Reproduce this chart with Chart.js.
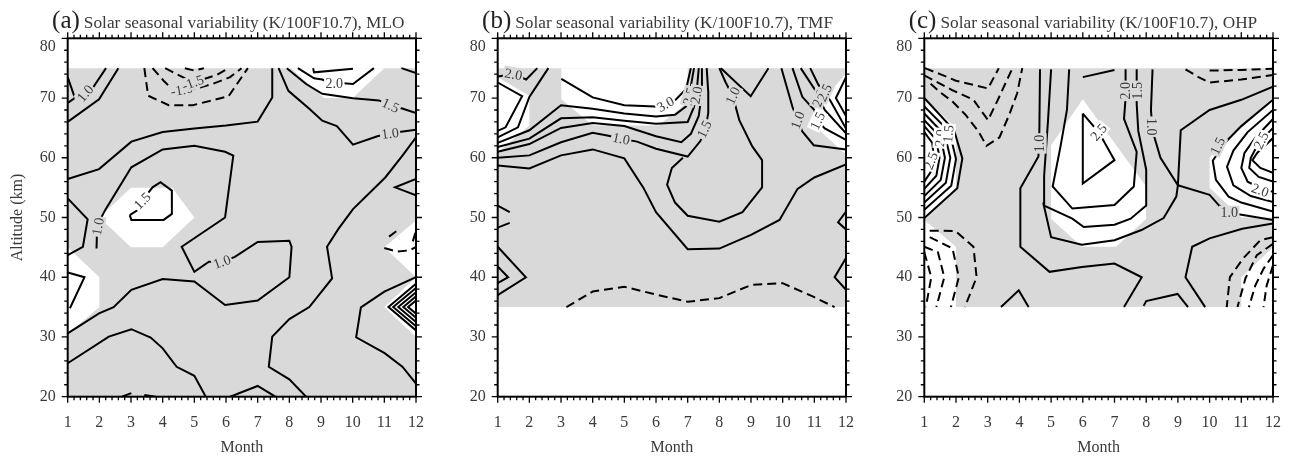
<!DOCTYPE html>
<html>
<head>
<meta charset="utf-8">
<script src="https://cdn.jsdelivr.net/npm/chart.js@4.4.0/dist/chart.umd.min.js"></script>
<style>
  html, body { margin: 0; padding: 0; background: #fff; }
  #wrap { position: relative; width: 1298px; height: 460px; overflow: hidden; }
  canvas { position: absolute; top: 0; }
</style>
</head>
<body>
<div id="wrap">
  <canvas id="ca" width="440" height="460" style="left:0px"></canvas>
  <canvas id="cb" width="440" height="460" style="left:430px"></canvas>
  <canvas id="cc" width="440" height="460" style="left:857px"></canvas>
</div>
<script>
// === AXES ===
const months = [1, 2, 3, 4, 5, 6, 7, 8, 9, 10, 11, 12];
const altTicks = [20, 30, 40, 50, 60, 70, 80];
const panelTags = ['(a)', '(b)', '(c)'];
const panelTitles = [
  'Solar seasonal variability (K/100F10.7), MLO',
  'Solar seasonal variability (K/100F10.7), TMF',
  'Solar seasonal variability (K/100F10.7), OHP'
];

// === (a) MLO : [month, altitude] ===
const shadeA = [[1, 20], [12, 20], [12, 75], [1, 75]];
const holesA = [
  [[8.05, 75], [11, 75], [10, 70], [9.1, 70]],
  [[2, 50], [3, 55], [4.3, 55], [5, 50], [4, 45], [3, 45]],
  [[1, 45], [2, 40], [2, 35], [1, 30.5]],
  [[11, 45], [12, 49.5], [12, 40]],
  [[11, 35], [12, 40], [12, 30]]
];
const solidA = [
  [[1, 73.5], [1.22, 70.1], [1.55, 70.9], [1.78, 71.6], [2.21, 75]],
  [[1, 69.2], [1.2, 69.9]],
  [[1, 66.0], [1.99, 69.8], [2.6, 75]],
  [[1, 56.45], [1.99, 58.1], [3.01, 62.7], [4, 64.3], [5, 64.9], [6, 65.4], [7, 66.05], [7.46, 70.1], [7.46, 75]],
  [[1, 53.2], [1.63, 49.7], [1.48, 45.1], [1, 43.7]],
  [[1.91, 44.8], [1.93, 48.7], [2.2, 51.4], [3.01, 58.4], [4, 61.4], [5, 62], [5.97, 61], [6.23, 60.35], [5.97, 50],
   [4.6, 45.1], [5, 40.9], [5.46, 42.6], [5.87, 42.6], [6.28, 43.4], [7, 45.9], [8, 46.1], [8.07, 45.1], [8, 40],
   [7, 36.1], [5.97, 35.35], [5, 39.3], [4, 39.7], [3.01, 37.9], [2.45, 35], [1.99, 33.95], [1, 30.6]],
  [[2.96, 50.4], [3.22, 51.3], [3.45, 53.5], [3.68, 55.05], [3.93, 55.9], [4.29, 54.5], [4.29, 50.6], [4.03, 49.6], [3.01, 49.6], [2.96, 50.4]],
  [[7.66, 75], [7.97, 71.2], [8.63, 68.2], [9.04, 66.2], [9.5, 65.3], [10.01, 62.2], [10.78, 63.6], [11.18, 64.1], [12, 64.7]],
  [[7.92, 75], [8.53, 72.35], [9.04, 70.7], [10.01, 69.95], [10.83, 69.6], [11.18, 68.8], [11.59, 68.2], [12, 67.5]],
  [[8.27, 75], [8.78, 73.3], [9.04, 73.1], [9.29, 72.5], [9.6, 72.5], [10.01, 72.35], [10.67, 75]],
  [[8.75, 75], [8.78, 74.3], [10.01, 74.9]],
  [[11.54, 75], [12, 74.2]],
  [[12, 63.4], [11.59, 60.5], [11.03, 56.7], [10.01, 51.4], [9.55, 48.1], [9.19, 45.1], [9.35, 39.8], [8.63, 35],
   [8, 33], [7.46, 30.05], [7.35, 25], [8, 22.9], [8.53, 20]],
  [[12, 56.45], [11.34, 55.05], [12, 53.7]],
  [[1, 25.6], [2.3, 30.05], [3.01, 31.3], [3.62, 29.9], [4, 28.1], [4.44, 25], [5, 23.5], [5.36, 20]],
  [[2.71, 20], [3.01, 20.6]],
  [[3.42, 20.3], [3.78, 20]],
  [[6.13, 20], [7, 21.8], [7.56, 20]],
  [[12, 40], [11, 37.6], [10.26, 34.96], [10.11, 29.94], [11.01, 27.3], [11.57, 25.03], [12, 22.2]],
  [[12, 38.9], [11.13, 35], [12, 31.1]],
  [[12, 38.2], [11.28, 35], [12, 31.8]],
  [[12, 37.5], [11.44, 35], [12, 32.5]],
  [[12, 36.8], [11.6, 35], [12, 33.2]],
  [[12, 36.1], [11.75, 35], [12, 33.9]],
  [[1, 40.8], [1.53, 40], [1.07, 34.8]]
];
const dashedA = [
  [[3.42, 75], [3.54, 70.4], [4.19, 68.8], [4.95, 68.8], [6.08, 70.3], [6.69, 75]],
  [[3.68, 75], [4.03, 72.9], [4.24, 71.8], [4.6, 71.5], [5.06, 71.6], [5.57, 72.35], [6.13, 73.5], [6.49, 75]],
  [[4.08, 75], [4.44, 74], [4.85, 72.9], [5.26, 73.1], [5.72, 73.9], [6.08, 75]],
  [[4.7, 75], [5, 74.6], [5.3, 75]],
  [[11, 44.9], [11.4, 44.3], [11.8, 44.5], [12, 45.1]],
  [[11.15, 46.8], [11.45, 48]],
  [[11.9, 46], [12, 47.8]]
];
const labelsA = [
  ['1.0', 1.55, 70.8, -50], ['-1.0', 4.6, 71.4, -10], ['-1.5', 4.95, 72.6, -20],
  ['2.0', 9.42, 72.5, 0], ['1.5', 11.2, 68.8, 25], ['1.0', 11.18, 64.1, -8],
  ['1.5', 3.35, 52.8, -45], ['1.0', 1.95, 48.5, -80], ['1.0', 5.87, 42.6, -20]
];

// === (b) TMF ===
const shadeB = [[1, 35], [12, 35], [12, 75], [1, 75]];
const holesB = [
  [[1, 73.5], [2, 70.4], [2, 65.4], [1, 60.9]],
  [[3.01, 75], [7, 75], [7, 69.3], [6.08, 65.4], [4, 65.4], [3.01, 69.8]],
  [[11, 68], [12, 74.1], [12, 60.5], [11, 65.4]]
];
const solidB = [
  [[1, 73.6], [1.5, 74], [1.9, 73.1], [2.25, 75]],
  [[1, 72.6], [1.77, 70.3], [1.25, 65.1], [1, 64.5]],
  [[2.6, 75], [2, 70.2], [1.64, 65.1], [1, 63.4]],
  [[3.01, 73.2], [4, 70.1], [5, 68.8], [5.97, 68.6], [6.25, 68.9], [6.6, 69.6], [6.95, 71.5], [7.1, 75]],
  [[1, 62.5], [2, 64.6], [3, 68.8], [4, 68.2], [5, 67.4], [6, 66.9], [6.6, 67.2], [6.95, 68.6], [7.1, 72], [7.2, 75]],
  [[1, 61.8], [2, 63.2], [3, 66.6], [4, 66.8], [5, 66.2], [6, 65.7], [7, 66], [7.2, 68.5], [7.3, 72], [7.35, 75]],
  [[1, 61], [2, 62.3], [3, 65], [4, 65.8], [5, 65.3], [6, 63.6], [6.8, 62.6], [7.1, 64], [7.35, 67], [7.45, 71], [7.45, 75]],
  [[1, 60], [2, 60.4], [3, 62.6], [4, 64.2], [4.5, 63.7], [5, 63.1], [5.4, 62.7], [6, 61.5], [7, 60.2], [7.4, 62.8],
   [7.55, 64.5], [7.65, 67.5], [7.65, 71], [7.6, 75]],
  [[8, 75], [8.2, 72.6], [8.42, 70.4], [8.63, 66.3], [9.04, 61.9], [9.35, 59.6], [9.35, 55.05], [8.73, 50.9], [8, 49.3],
   [7, 50.3], [6.6, 52.5], [6.35, 55.5], [6.5, 58.3], [6.85, 60]],
  [[1, 58.7], [2, 58.2], [3, 60.4], [4, 61.4], [5, 59.9], [5.6, 55], [6, 50.9], [7, 44.7], [8, 44.8], [9, 47.1],
   [9.9, 49.6], [10.47, 54.8], [11, 56.7], [12, 58.9]],
  [[8.05, 75], [8.99, 70.3], [9.55, 75]],
  [[9.96, 75], [10.31, 68.5], [10.47, 66.3], [10.62, 64.4], [10.98, 62.1], [12, 61.4]],
  [[10.31, 75], [10.62, 70.2], [11, 68], [11.1, 66.2], [11.33, 64.9], [12, 63]],
  [[10.57, 75], [11.03, 71.3], [11.15, 70], [11.33, 68], [12, 64.1]],
  [[10.87, 75], [11.13, 72.2], [11.3, 70.9], [11.49, 69.7], [12, 64.9]],
  [[12, 73.5], [11.68, 70], [12, 67]],
  [[1, 45.1], [1.89, 40], [1, 37]],
  [[1, 41.8], [1.33, 40], [1, 39]],
  [[1, 52], [1.38, 50.9]],
  [[1, 48.3], [1.38, 49.1]],
  [[12, 43.2], [11.64, 40], [12, 37.9]],
  [[12, 51], [11.75, 49.2], [12, 48]]
];
const dashedB = [
  [[3.17, 35], [4, 37.6], [5, 38.4], [6.08, 37], [7, 35.9], [8, 36.5], [9, 38.7], [10, 39], [10.98, 36.7], [11.64, 35]]
];
const labelsB = [
  ['2.0', 1.5, 74, 10], ['3.0', 6.3, 69, -30], ['2.5', 7.05, 70.3, -75], ['2.0', 7.27, 70.5, -80],
  ['1.0', 4.9, 63.2, 12], ['1.5', 7.52, 64.8, -65], ['1.0', 8.42, 70.4, -65],
  ['1.0', 10.47, 66.3, -70], ['1.5', 11.1, 66.2, -65], ['2.0', 11.15, 70, -70], ['2.5', 11.32, 70.9, -65]
];

// === (c) OHP ===
const shadeC = [[1, 35], [12, 35], [12, 75], [1, 75]];
const holesC = [
  [[6, 69.8], [7.97, 55.4], [8, 49.8], [7.05, 45.1], [5.97, 45.1], [5, 49.8], [5, 62.1]],
  [[1, 70], [2, 65], [2, 55], [1, 50]],
  [[1, 49.6], [2, 45.1], [2, 35], [1, 35]],
  [[12, 70], [11, 65], [10, 60], [10, 55], [11, 50], [12, 50]],
  [[11, 40], [12, 45], [12, 35], [11, 35]]
];
const solidC = [
  [[1, 70], [1.94, 64.6], [2.2, 59.9], [2.04, 54.9], [1, 49.9]],
  [[1, 68.6], [1.8, 64.3], [2, 59.8], [1.85, 55.3], [1, 51.3]],
  [[1, 67.4], [1.65, 63.8], [1.82, 60], [1.68, 55.8], [1, 52.5]],
  [[1, 66.3], [1.52, 63.4], [1.65, 60], [1.52, 56.3], [1, 53.6]],
  [[1, 65.3], [1.38, 63], [1.48, 60], [1.38, 57], [1, 54.8]],
  [[1, 64.3], [1.25, 62.5], [1.3, 60], [1.2, 57.6], [1, 56]],
  [[4.65, 74.8], [4.63, 64.6], [4.6, 60.2], [4.03, 54.9], [4.03, 45.1], [4.95, 40.9], [5.97, 41.7], [7, 42.3], [7.86, 40], [7.3, 35]],
  [[4.75, 52.5], [5, 46.7], [5.97, 45.45], [7, 46.2], [7.85, 47.9], [8.55, 49.9], [8.95, 53.5], [9, 55.4], [8.45, 60],
   [8.2, 64.5], [8.15, 68], [8.2, 74.8]],
  [[5, 74.8], [4.9, 66], [4.78, 57], [4.78, 52], [5.67, 49.8], [6.03, 48.4], [7, 48.8], [7.51, 49.8], [8, 52], [8, 58],
   [7.75, 64.5], [7.7, 69], [7.7, 74.8]],
  [[5.57, 74.8], [5.5, 68], [5.3, 62], [5.05, 55.2], [5.67, 51.5], [7, 52.1], [7.61, 55.2], [7.7, 61], [7.3, 66.5],
   [7.35, 70], [7.35, 74.8]],
  [[6, 67.4], [6.5, 64.3], [7, 59.6], [6, 55.7], [6, 67.4]],
  [[6, 73.5], [7, 74.7]],
  [[12, 71.9], [11, 69.7], [10, 68], [9.09, 64.6], [9, 55.4]],
  [[9, 55.4], [10, 53.8], [10.3, 52], [10.62, 50.8], [11.2, 50.3], [12, 49.6]],
  [[12, 49], [11.03, 48.1], [10, 46.5], [9.45, 45.1], [9.24, 40], [9.86, 35]],
  [[7.92, 35.2], [8, 36], [8.99, 37.2], [9.32, 35]],
  [[3.42, 35], [3.98, 37.8], [4.29, 35]],
  [[12, 69.7], [11, 65.3], [10.5, 62.6], [10.1, 59.5], [10.2, 56.3], [10.6, 53.5], [11, 52.5], [12, 51]],
  [[12, 68], [11.2, 64.3], [10.75, 61.2], [10.55, 58.5], [10.75, 55.4], [11.3, 53.6], [12, 52.6]],
  [[12, 66.5], [11.45, 63.4], [11.1, 60.8], [11, 58.3], [11.2, 56], [11.6, 54.9], [12, 54.3]],
  [[12, 65], [11.55, 62.5], [11.3, 60], [11.25, 58.3], [11.55, 56.8], [12, 56]],
  [[12, 63.3], [11.5, 60.8], [11.35, 59.6], [11.6, 58.3], [12, 57.5]]
];
const dashedC = [
  [[1.02, 75], [1.5, 74], [2, 72.9], [3.01, 71.6], [3.35, 75]],
  [[1, 73.8], [1.89, 71.3], [2.55, 69.7], [3.01, 66.3], [3.32, 69.7], [3.78, 75]],
  [[1.2, 72.4], [1.48, 71.05], [1.89, 69.4], [2.3, 67.2], [2.71, 64.4], [2.96, 62], [3.37, 63.4], [3.68, 67.2], [3.93, 70.8], [4.09, 75]],
  [[1.17, 47.8], [1.53, 47.8], [1.99, 47.7], [2.55, 45.1], [2.65, 40], [2.28, 35]],
  [[1.17, 46.7], [1.48, 45.9], [1.89, 44.8], [2.09, 40], [1.84, 35]],
  [[1, 45.1], [1.43, 44.2], [1.63, 40], [1.38, 35]],
  [[1, 44.2], [1.22, 40], [1.05, 35]],
  [[12, 46.7], [11.6, 46.2], [11.05, 43.1], [10.64, 40], [10.54, 35]],
  [[12, 45.6], [11.49, 43.7], [11.13, 39.8], [10.88, 35]],
  [[12, 43.7], [11.7, 41.4], [11.44, 38.6], [11.24, 35]],
  [[12, 42], [11.8, 38.6], [11.7, 35]],
  [[9.24, 74.8], [9.65, 73.5], [10, 72.6], [11, 73.1], [12, 73.85]],
  [[10, 74.6], [11, 74.7], [12, 74.9]]
];
const labelsC = [
  ['2.5', 1.2, 59.5, -70], ['2.0', 1.5, 63.3, -85], ['1.5', 1.75, 64, -85],
  ['1.0', 4.64, 62.4, -90], ['2.0', 7.35, 71.2, -90], ['1.5', 7.71, 71.2, -90], ['1.0', 8.17, 65.2, 90],
  ['2.5', 6.5, 64.3, -50], ['1.0', 10.62, 50.8, 0],
  ['1.5', 10.25, 62, -65], ['2.5', 11.62, 62.9, -65], ['2.0', 11.6, 54.6, 20]
];

const GRAY = '#d9d9d9';
const FONT = 'Liberation Serif';
const TXT = '#3a3a3a';

function inside(pt, poly) {
  let c = false;
  for (let i = 0, j = poly.length - 1; i < poly.length; j = i++) {
    const [xi, yi] = poly[i], [xj, yj] = poly[j];
    if (((yi > pt[1]) !== (yj > pt[1])) && (pt[0] < (xj - xi) * (pt[1] - yi) / (yj - yi) + xi)) c = !c;
  }
  return c;
}

function polySet(pts, color, order) {
  const closed = pts.concat([pts[0]]);
  return {
    data: closed.map(([x, y]) => ({x, y})),
    fill: 'shape', backgroundColor: color,
    borderColor: 'rgba(0,0,0,0)', borderWidth: 0,
    pointRadius: 0, tension: 0, order: order
  };
}

function lineSet(pts, dash) {
  return {
    data: pts.map(([x, y]) => ({x, y})),
    fill: false, borderColor: '#000', borderWidth: 2, borderDash: dash,
    borderJoinStyle: 'miter', pointRadius: 0, tension: 0, order: 0
  };
}

// contour labels, cut into the lines
const labelPlugin = {
  id: 'contourLabels',
  afterDatasetsDraw(chart, args, opts) {
    const {ctx} = chart;
    const xs = chart.scales.x, ys = chart.scales.y;
    ctx.save();
    ctx.font = '14px "' + FONT + '"';
    ctx.textAlign = 'center';
    ctx.textBaseline = 'middle';
    opts.labels.forEach(([txt, m, a, rot]) => {
      const pt = [m, a];
      let bg = '#fff';
      if (inside(pt, opts.shade) && !opts.holes.some(h => inside(pt, h))) bg = GRAY;
      const w = ctx.measureText(txt).width + 3;
      ctx.save();
      ctx.translate(xs.getPixelForValue(m), ys.getPixelForValue(a));
      ctx.rotate(rot * Math.PI / 180);
      ctx.fillStyle = bg;
      ctx.fillRect(-w / 2, -7, w, 14);
      ctx.fillStyle = TXT;
      ctx.fillText(txt, 0, 1);
      ctx.restore();
    });
    ctx.restore();
  }
};

// box, outward ticks on all four sides, the shifted top label and panel title
const framePlugin = {
  id: 'frame',
  afterDraw(chart, args, opts) {
    const {ctx, chartArea: {left, right, top, bottom}} = chart;
    const xs = chart.scales.x, ys = chart.scales.y;
    ctx.save();
    ctx.strokeStyle = '#000';
    ctx.lineWidth = 1.3;
    ctx.beginPath();
    for (let i = 0; i <= 55; i++) {
      const px = xs.getPixelForValue(1 + i * 0.2);
      const len = i % 5 === 0 ? 6 : 3.5;
      ctx.moveTo(px, bottom); ctx.lineTo(px, bottom + len);
      ctx.moveTo(px, top); ctx.lineTo(px, top - len);
    }
    for (let i = 0; i <= 30; i++) {
      const py = ys.getPixelForValue(20 + i * 2);
      const len = i % 5 === 0 ? 6 : 3.5;
      ctx.moveTo(left, py); ctx.lineTo(left - len, py);
      ctx.moveTo(right, py); ctx.lineTo(right + len, py);
    }
    ctx.stroke();
    ctx.lineWidth = 2;
    ctx.strokeRect(left, top, right - left, bottom - top);

    // top tick label sits a little below its tick
    ctx.fillStyle = TXT;
    ctx.font = '16px "' + FONT + '"';
    ctx.textAlign = 'right';
    ctx.textBaseline = 'middle';
    ctx.fillText(String(altTicks[altTicks.length - 1]), left - 12, ys.getPixelForValue(80) + 8);

    ctx.fillStyle = '#222';
    ctx.textBaseline = 'alphabetic';
    ctx.textAlign = 'left';
    ctx.font = '25px "' + FONT + '"';
    const tx = left - 15.6;
    ctx.fillText(opts.tag, tx, 28);
    const tw = ctx.measureText(opts.tag).width;
    ctx.fillStyle = TXT;
    ctx.font = '17.3px "' + FONT + '"';
    ctx.fillText(opts.title, tx + tw + 4, 28);
    ctx.restore();
  }
};

function makePanel(id, idx, shade, holes, solid, dashed, labels, yw, padR, showYTitle) {
  const datasets = [];
  datasets.push(polySet(shade, GRAY, 2));
  holes.forEach(h => datasets.push(polySet(h, '#ffffff', 1)));
  solid.forEach(l => datasets.push(lineSet(l, [])));
  dashed.forEach(l => datasets.push(lineSet(l, [9, 5])));

  new Chart(document.getElementById(id), {
    type: 'line',
    data: { datasets },
    options: {
      responsive: false,
      animation: false,
      events: [],
      layout: { padding: { left: 0, right: padR, top: 38.3, bottom: 2.3 } },
      scales: {
        x: {
          type: 'linear', min: 1, max: 12,
          afterBuildTicks: s => { s.ticks = months.map(v => ({value: v})); },
          afterFit: s => { s.height = 61; },
          grid: { display: false, drawTicks: false },
          border: { display: false },
          ticks: { color: TXT, font: { family: FONT, size: 16 }, padding: 16, maxRotation: 0, autoSkip: false },
          title: { display: true, text: 'Month', color: TXT, font: { family: FONT, size: 16 }, padding: 0 }
        },
        y: {
          type: 'linear', min: 20, max: 80,
          afterBuildTicks: s => { s.ticks = altTicks.map(v => ({value: v})); },
          afterFit: s => { s.width = yw; },
          grid: { display: false, drawTicks: false },
          border: { display: false },
          ticks: { color: TXT, font: { family: FONT, size: 16 }, padding: 12,
                   callback: v => (v === 80 ? '' : v) },
          title: { display: showYTitle, text: 'Altitude (km)', color: TXT,
                   font: { family: FONT, size: 16 }, padding: { top: 8.4, bottom: 0 } }
        }
      },
      plugins: {
        legend: { display: false },
        tooltip: { enabled: false },
        contourLabels: { labels, shade, holes },
        frame: { tag: panelTags[idx], title: panelTitles[idx] }
      }
    },
    plugins: [labelPlugin, framePlugin]
  });
}

makePanel('ca', 0, shadeA, holesA, solidA, dashedA, labelsA, 67.7, 13.3, true);
makePanel('cb', 1, shadeB, holesB, solidB, dashedB, labelsB, 67.7, 13.3, false);
makePanel('cc', 2, shadeC, holesC, solidC, dashedC, labelsC, 67.3, 13.7, false);
</script>
</body>
</html>
